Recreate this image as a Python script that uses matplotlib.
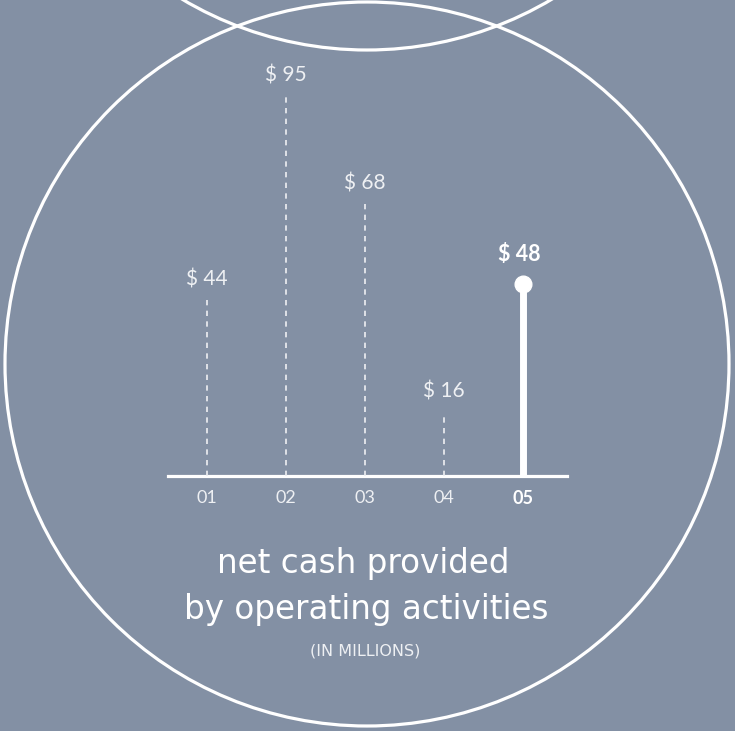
"""
Net cash provided by operating activities, drawn as a lollipop chart inside circles.
"""

import matplotlib.pyplot as plt
from matplotlib.patches import Circle

years = ["01", "02", "03", "04", "05"]
cash = [44, 95, 68, 16, 48]
value_labels = ["$ 44", "$ 95", "$ 68", "$ 16", "$ 48"]

BG = "#8390a4"
WHITE = "#ffffff"
SOFT = "#eef0f3"
FONT = ["Lato", "DejaVu Sans"]
TITLE_FONT = ["DejaVu Sans"]

W, H = 735, 731
fig = plt.figure(figsize=(W / 100, H / 100), dpi=100, facecolor=BG)

# background layer in pixel units for the circles and titles
bg = fig.add_axes([0, 0, 1, 1])
bg.set_xlim(0, W)
bg.set_ylim(H, 0)
bg.set_facecolor(BG)
bg.axis("off")
bg.add_patch(Circle((367, 364), 362, fill=False, ec=WHITE, lw=2.3))
bg.add_patch(Circle((367, -312), 362, fill=False, ec=WHITE, lw=2.3))

bg.text(363, 564, "net cash provided", ha="center", va="center",
        color=WHITE, fontsize=23.5, family=TITLE_FONT)
bg.text(366, 610, "by operating activities", ha="center", va="center",
        color=WHITE, fontsize=23.5, family=TITLE_FONT)
bg.text(365, 651, "(IN MILLIONS)", ha="center", va="center",
        color=SOFT, fontsize=11.5, family=TITLE_FONT)

# chart layer: 1 unit = 4 px, baseline at y=475.7 px from top
left, right = 168, 567
base = 475.7
ax = fig.add_axes([left / W, (H - base) / H, (right - left) / W, 400 / H])
ax.set_xlim(-0.494, 4.557)
ax.set_ylim(0, 100)
ax.patch.set_alpha(0)
for s in ax.spines.values():
    s.set_visible(False)

ax.axhline(0, color=WHITE, lw=2.3, clip_on=False)

for i, (v, lab) in enumerate(zip(cash, value_labels)):
    last = i == len(cash) - 1
    if last:
        ax.plot([i, i], [0, v], color=WHITE, lw=5, solid_capstyle="butt",
                clip_on=False)
        ax.plot(i, v, "o", color=WHITE, ms=12, clip_on=False)
        ax.annotate(lab, (i, v), xytext=(-4, 29), textcoords="offset pixels",
                    ha="center", va="center", color=WHITE, fontsize=15.5,
                    fontweight="bold", family=FONT)
    else:
        ax.plot([i, i], [0, v], color=SOFT, lw=1.2, ls=(0, (3.2, 3.2)),
                clip_on=False)
        ax.annotate(lab, (i, v), xytext=(0, 20), textcoords="offset pixels",
                    ha="center", va="center", color=SOFT, fontsize=15,
                    family=FONT)

ax.set_xticks(range(len(years)))
ax.set_xticklabels(years, family=FONT, fontsize=13, color=SOFT)
ax.get_xticklabels()[-1].set_fontweight("bold")
ax.get_xticklabels()[-1].set_color(WHITE)
ax.tick_params(axis="x", length=0, pad=10)
ax.set_yticks([])

fig.savefig("out.png", dpi=100, facecolor=BG)
